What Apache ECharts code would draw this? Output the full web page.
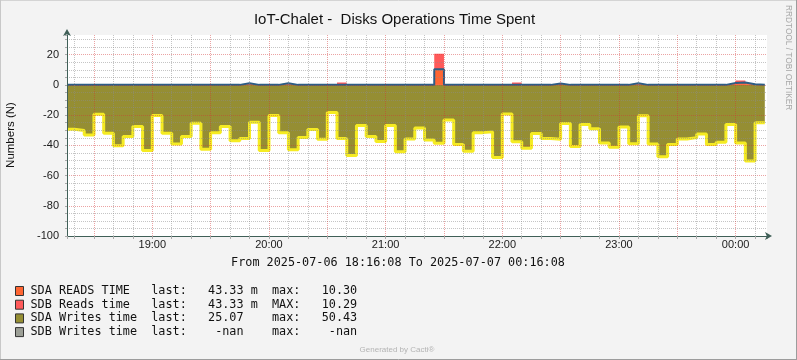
<!DOCTYPE html>
<html><head><meta charset="utf-8">
<script src="https://cdn.jsdelivr.net/npm/echarts@6/dist/echarts.min.js"></script>
<style>html,body{margin:0;padding:0;background:#f3f3f3}#c{width:797px;height:360px}</style>
</head><body><div id="c"></div><script>
// ---- data ----
const chartTitle = 'IoT-Chalet -  Disks Operations Time Spent';
const yAxisName = 'Numbers (N)';
const periodText = 'From 2025-07-06 18:16:08 To 2025-07-07 00:16:08';
const rangeStartMin = 18 * 60 + 16 + 8 / 60;   // minutes since 2025-07-06 00:00
const rangeEndMin = rangeStartMin + 360;
const firstPointMin = 18 * 60 + 20;           // first 5-min sample (18:20)
const stepMin = 5;
const xTickLabels = ['19:00', '20:00', '21:00', '22:00', '23:00', '00:00'];
const yTickLabels = [20, 0, -20, -40, -60, -80, -100];

const seriesNames = ['SDA READS TIME', 'SDB Reads time', 'SDA Writes time', 'SDB Writes time'];
const seriesColors = ['#FF6633', '#FF5A5A', '#958E33', '#9C9F96'];

const sdaReads = [
  0, 0, 0, 0, 0, 0, 0, 0, 0, 0,
  0, 0, 0, 0, 0, 0, 0, 0, 1.1, 0,
  0, 0, 1.1, 0, 0, 0, 0, 0, 0, 0,
  0, 0, 0, 0, 0, 0, 0, 0, 10.3, 0,
  0, 0, 0, 0, 0, 0, 0, 0, 0, 0,
  0.9, 0, 0, 0, 0, 0, 0, 0, 1.0, 0,
  0, 0, 0, 0, 0, 0, 0, 0, 1.2, 1.5,
  0.4, 0.04333
];
const sdbReads = [
  0, 0, 0, 0, 0, 0, 0, 0, 0, 0,
  0, 0, 0, 0, 0, 0, 0, 0, 0, 0,
  0, 0, 0, 0, 0, 0, 0, 0, 1.6, 0,
  0, 0, 0, 0, 0, 0, 0, 0, 10.29, 0,
  0, 0, 0, 0, 0, 0, 1.6, 0, 0, 0,
  0, 0, 0, 0, 0, 0, 0, 0, 0, 0,
  0, 0, 0, 0, 0, 0, 0, 0, 0, 1.4,
  0, 0.04333
];
const sdaWrites = [
  29.4, 30.2, 33.1, 19.4, 32.0, 40.2, 34.2, 27.6, 43.5, 20.3,
  32.0, 39.1, 34.2, 25.4, 42.6, 31.6, 27.6, 36.9, 35.5, 24.7,
  43.5, 20.3, 31.6, 43.0, 34.9, 29.6, 36.0, 18.3, 35.5, 46.8,
  26.9, 34.2, 37.5, 26.9, 44.2, 35.8, 28.5, 36.4, 38.6, 23.2,
  39.5, 43.9, 31.6, 31.1, 48.1, 19.2, 37.7, 41.9, 32.2, 35.5,
  36.0, 25.6, 40.8, 26.3, 29.1, 38.4, 41.3, 27.8, 38.9, 20.5,
  39.1, 47.5, 39.5, 35.8, 34.9, 32.5, 39.5, 38.0, 26.3, 38.4,
  50.43, 25.07
];
const legendRows = [
  'SDA READS TIME   last:   43.33 m  max:   10.30',
  'SDB Reads time   last:   43.33 m  MAX:   10.29',
  'SDA Writes time  last:   25.07    max:   50.43',
  'SDB Writes time  last:    -nan    max:    -nan'
];

// ---- helpers ----
function stepData(vals, sign) {
  const d = [[rangeStartMin, sign * vals[0]]];
  vals.forEach((v, i) => d.push([firstPointMin + i * stepMin, sign * v]));
  return d;
}
// SDB reads is stacked on top of SDA reads (stack total built from the two arrays)
const readsTotal = sdaReads.map((v, i) => v + sdbReads[i]);

const xLabelSet = {};
xTickLabels.forEach(t => {
  const h = parseInt(t.slice(0, 2), 10);
  const m = (h < 12 ? h + 24 : h) * 60 + parseInt(t.slice(3), 10);
  xLabelSet[m] = t;
});
const ySet = {};
yTickLabels.forEach(v => ySet[v] = String(v));

const sans = '"Liberation Sans", Arial, sans-serif';
const mono = '"DejaVu Sans Mono", monospace';
const minorGrid = 'rgba(140,140,140,0.5)';
const majorGrid = 'rgba(210,50,50,0.45)';
const axisColor = '#3F5F57';

const graphic = [
  {type: 'line', shape: {x1: 0, y1: 0.5, x2: 797, y2: 0.5}, style: {stroke: '#d4d4d4', lineWidth: 1}, silent: true},
  {type: 'line', shape: {x1: 0.5, y1: 0, x2: 0.5, y2: 360}, style: {stroke: '#c8c8c8', lineWidth: 1}, silent: true},
  {type: 'line', shape: {x1: 0, y1: 359.5, x2: 797, y2: 359.5}, style: {stroke: '#9c9c9c', lineWidth: 1}, silent: true},
  {type: 'line', shape: {x1: 796.5, y1: 0, x2: 796.5, y2: 360}, style: {stroke: '#9c9c9c', lineWidth: 1}, silent: true},
  {type: 'text', x: 394.5, y: 20, style: {text: chartTitle, x: 0, y: 0, font: '15px ' + sans, fill: '#111',
     textAlign: 'center', textVerticalAlign: 'middle', align: 'center', verticalAlign: 'middle'}},
  {type: 'text', x: 11, y: 135, rotation: Math.PI / 2, style: {text: yAxisName, x: 0, y: 0, font: '11.5px ' + sans, fill: '#111',
     textAlign: 'center', textVerticalAlign: 'middle', align: 'center', verticalAlign: 'middle'}},
  {type: 'text', x: 788, y: 5, rotation: -Math.PI / 2, style: {text: 'RRDTOOL / TOBI OETIKER', x: 0, y: 0, font: '8.3px ' + sans, fill: '#a8a8a8',
     textAlign: 'left', textVerticalAlign: 'middle', align: 'left', verticalAlign: 'middle'}},
  {type: 'text', x: 398, y: 263, style: {text: periodText, x: 0, y: 0, font: '11.8px ' + mono, fill: '#111',
     textAlign: 'center', textVerticalAlign: 'middle', align: 'center', verticalAlign: 'middle'}},
  {type: 'text', x: 397, y: 350, style: {text: 'Generated by Cacti®', x: 0, y: 0, font: '8px ' + sans, fill: '#b4b4b4',
     textAlign: 'center', textVerticalAlign: 'middle', align: 'center', verticalAlign: 'middle'}}
];
const rowY = [291, 304.7, 318.4, 332.1];
legendRows.forEach((row, i) => {
  graphic.push({type: 'rect', shape: {x: 15.5, y: rowY[i] - 4.5, width: 8, height: 9},
    style: {fill: seriesColors[i], stroke: '#333', lineWidth: 1}, silent: true});
  graphic.push({type: 'text', x: 30.5, y: rowY[i], style: {text: row, x: 0, y: 0, font: '11.8px ' + mono, fill: '#111',
    textAlign: 'left', textVerticalAlign: 'middle', align: 'left', verticalAlign: 'middle'}});
});

const option = {
  animation: false,
  backgroundColor: '#f3f3f3',
  grid: {left: 67, top: 35, width: 700, height: 201, show: true, backgroundColor: '#ffffff', borderWidth: 0, containLabel: false},
  xAxis: {
    type: 'value', min: rangeStartMin, max: rangeEndMin, splitNumber: 36, z: 6,
    axisLine: {show: true, onZero: false, symbol: ['none', 'arrow'], symbolSize: [6, 7], symbolOffset: [0, 5],
      lineStyle: {color: axisColor, width: 1}},
    axisTick: {show: true, length: 3, lineStyle: {color: '#aaa'}},
    axisLabel: {interval: 0, margin: 3, fontSize: 11, fontFamily: sans, color: '#1a1a1a', hideOverlap: false,
      formatter: v => { const r = Math.round(v); return Math.abs(v - r) < 1e-6 && xLabelSet[r] ? xLabelSet[r] : ''; }},
    splitLine: {show: true, showMaxLine: false, lineStyle: {color: [minorGrid, minorGrid, majorGrid], type: [1, 1], width: 1}}
  },
  yAxis: {
    type: 'value', min: -100, max: 33, interval: 5, z: 6,
    axisLine: {show: true, onZero: false, symbol: ['none', 'arrow'], symbolSize: [6, 7], symbolOffset: [0, 6],
      lineStyle: {color: axisColor, width: 1}},
    axisTick: {show: true, length: 2, lineStyle: {color: '#aaa'}},
    axisLabel: {margin: 8, fontSize: 11, fontFamily: sans, color: '#1a1a1a', showMaxLabel: true,
      formatter: v => { const r = Math.round(v); return Math.abs(v - r) < 1e-6 && ySet[r] !== undefined ? ySet[r] : ''; }},
    splitLine: {show: true, showMaxLine: false, lineStyle: {color: [majorGrid, minorGrid, minorGrid, minorGrid], type: [1, 1], width: 1}}
  },
  series: [
    {name: seriesNames[2], type: 'line', step: 'start', symbol: 'none', z: 2, data: stepData(sdaWrites, -1),
      lineStyle: {color: '#F5EB22', width: 3}, areaStyle: {color: seriesColors[2], opacity: 1}},
    {name: seriesNames[1], type: 'line', step: 'start', symbol: 'none', z: 3, data: stepData(readsTotal, 1),
      lineStyle: {width: 0, opacity: 0}, areaStyle: {color: seriesColors[1], opacity: 1}},
    {name: seriesNames[0], type: 'line', step: 'start', symbol: 'none', z: 4, data: stepData(sdaReads, 1),
      lineStyle: {width: 0, opacity: 0}, areaStyle: {color: seriesColors[0], opacity: 1}},
    {name: seriesNames[0] + ' line', type: 'line', step: 'start', symbol: 'none', z: 5, data: stepData(sdaReads, 1),
      lineStyle: {color: '#2D5D85', width: 2}}
  ],
  graphic: graphic
};
const chart = echarts.init(document.getElementById('c'), null, {renderer: 'canvas', width: 797, height: 360});
chart.setOption(option);
</script></body></html>
